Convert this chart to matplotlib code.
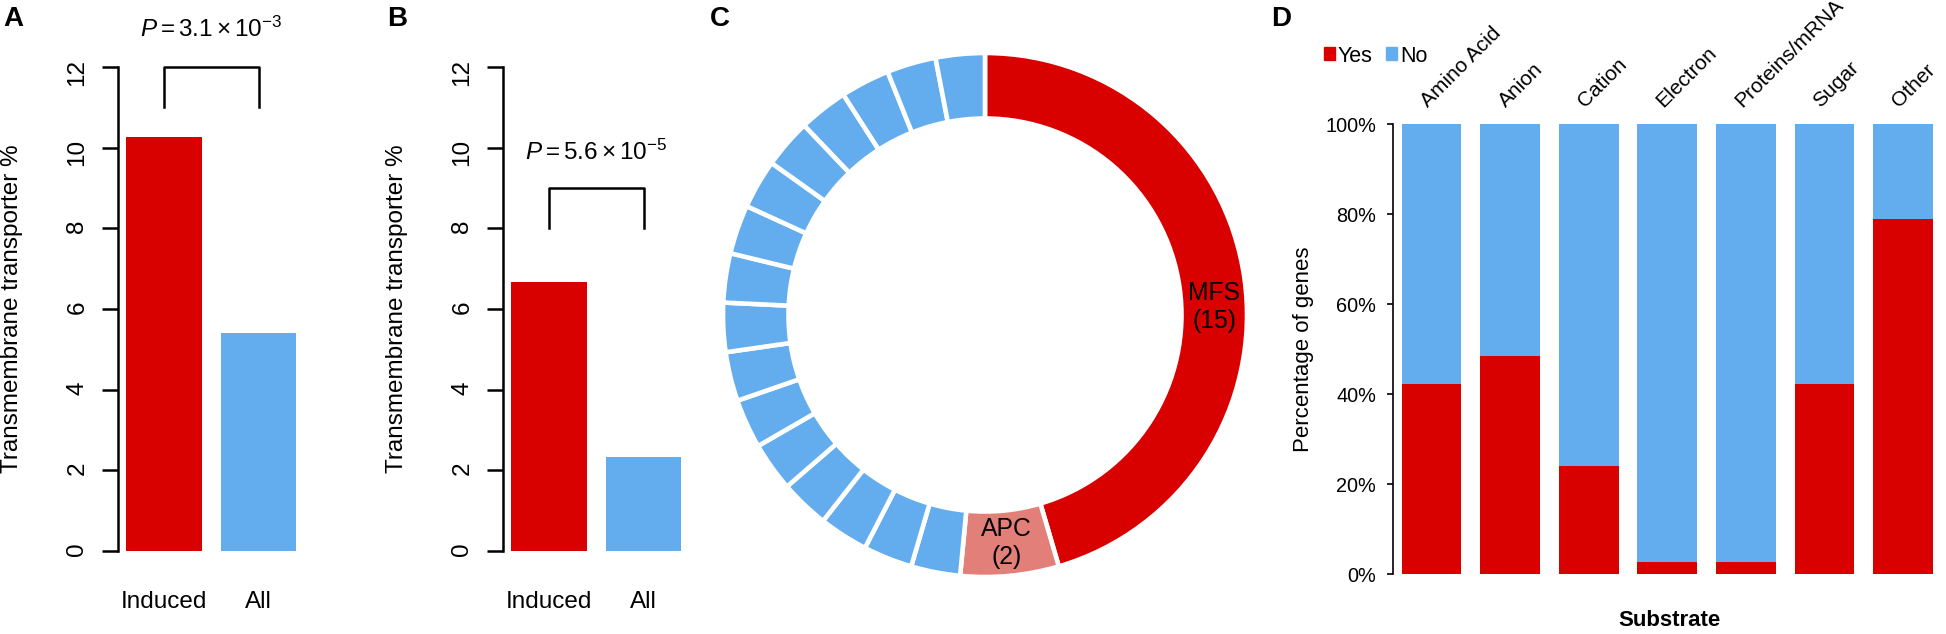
import matplotlib
matplotlib.use("Agg")
import numpy as np
import matplotlib.pyplot as plt
from matplotlib.patches import Patch

plt.rcParams['font.family'] = ['Liberation Sans', 'DejaVu Sans']
plt.rcParams['mathtext.fontset'] = 'custom'
plt.rcParams['mathtext.rm'] = 'Liberation Sans'
plt.rcParams['mathtext.it'] = 'Liberation Sans:italic'

W, H, DPI = 1946, 634, 100

RED = '#d90000'
BLUE = '#63adee'
SALMON = '#e27f78'

# panels A and B: transmembrane transporter share
groups = ['Induced', 'All']
pct_a = [10.27, 5.41]
pct_b = [6.68, 2.33]
pval_a = r'$P = 3.1 \times 10^{-3}$'
pval_b = r'$P = 5.6 \times 10^{-5}$'

# panel C: transporter families (one slice per family)
families = ['MFS', 'APC'] + [''] * 16
family_counts = [15, 2] + [1] * 16
family_colors = [RED, SALMON] + [BLUE] * 16

# panel D: substrate, yes / no
substrates = ['Amino Acid', 'Anion', 'Cation', 'Electron', 'Proteins/mRNA', 'Sugar', 'Other']
yes_pct = [42.2, 48.5, 24.0, 2.7, 2.7, 42.2, 78.9]
no_pct = [57.8, 51.5, 76.0, 97.3, 97.3, 57.8, 21.1]

fig = plt.figure(figsize=(W / DPI, H / DPI), dpi=DPI)


def px_axes(left, top, right, bottom):
    ax = fig.add_axes([left / W, 1 - bottom / H, (right - left) / W, (bottom - top) / H])
    ax.patch.set_visible(False)
    return ax


def panel_label(x, letter):
    fig.text(x / W, 1 - 26 / H, letter, fontsize=20, fontweight='bold', va='baseline', ha='left')


# bar panels, R barplot style
def bar_panel(center0, values, bracket, pval, p_y):
    unit = 94.5
    ax = px_axes(center0 - 0.485 * unit, 67, center0 + 1.6 * unit, 551)
    ax.bar([0, 1], values, width=0.8, color=[RED, BLUE])
    ax.set_xlim(-0.485, 1.6)
    ax.set_ylim(0, 12)
    for s in ['top', 'right', 'bottom']:
        ax.spines[s].set_visible(False)
    ax.spines['left'].set_bounds(0, 12)
    ax.spines['left'].set_linewidth(1.8)
    ax.set_yticks(range(0, 13, 2))
    ax.tick_params(axis='y', length=11.5, width=1.8, labelsize=17.5, pad=10, labelrotation=90)
    ax.set_xticks([])
    for i, g in enumerate(groups):
        ax.text(i, -1.41, g, ha='center', va='baseline', fontsize=17.5, clip_on=False)
    lo, hi = bracket
    ax.plot([0, 0, 1, 1], [lo, hi, hi, lo], color='black', lw=1.8, clip_on=False)
    ax.text(0.5, p_y, pval, ha='center', va='baseline', fontsize=17.5, clip_on=False)
    return ax


bar_panel(164, pct_a, (11, 12), pval_a, 12.74)
bar_panel(549, pct_b, (8, 9), pval_b, 9.69)
fig.text(12 / W, 1 - 309 / H, 'Transmembrane transporter %', rotation=90,
         ha='center', va='center', fontsize=17.5)
fig.text(397 / W, 1 - 309 / H, 'Transmembrane transporter %', rotation=90,
         ha='center', va='center', fontsize=17.5)
panel_label(3, 'A')
panel_label(387, 'B')

# panel C: donut
cx, cy, R = 985, 315, 262
axc = px_axes(cx - 300, cy - 300, cx + 300, cy + 300)
wedges, _ = axc.pie(family_counts, colors=family_colors, startangle=90, counterclock=False,
                    radius=1, wedgeprops=dict(width=0.25, edgecolor='white', linewidth=3.3))
axc.set_xlim(-300 / R, 300 / R)
axc.set_ylim(-300 / R, 300 / R)
label_angle = {'MFS': 2.0}
for w, name, n in zip(wedges, families, family_counts):
    if not name:
        continue
    ang = label_angle.get(name, (w.theta1 + w.theta2) / 2)
    r = 0.875
    axc.text(r * np.cos(np.radians(ang)), r * np.sin(np.radians(ang)), f'{name}\n({n})',
             ha='center', va='center', fontsize=17.8)
panel_label(710, 'C')

# panel D: stacked percentage bars
unit = 78.6
axd = px_axes(1393, 124, 1946, 574)
x = np.arange(len(substrates))
axd.bar(x, yes_pct, width=0.763, color=RED)
axd.bar(x, no_pct, width=0.763, bottom=yes_pct, color=BLUE)
axd.set_xlim(-0.49, (1946 - 1431.5) / unit)
axd.set_ylim(0, 100)
for s in ['top', 'right', 'bottom']:
    axd.spines[s].set_visible(False)
axd.spines['left'].set_bounds(0, 100)
axd.spines['left'].set_linewidth(1.2)
axd.set_yticks(range(0, 101, 20))
axd.set_yticklabels([f'{v}%' for v in range(0, 101, 20)])
axd.tick_params(axis='y', length=4.3, width=1.2, labelsize=14.3, pad=8)
axd.set_xticks([])
for i, s in enumerate(substrates):
    axd.text(i - 0.05, 103.6, s, rotation=45, rotation_mode='anchor', ha='left', va='baseline',
             fontsize=15, clip_on=False)
fig.text(1303.5 / W, 1 - 349.7 / H, 'Percentage of genes', rotation=90,
         ha='center', va='center', fontsize=16)
fig.text(1669.7 / W, 1 - 620 / H, 'Substrate', ha='center', va='center',
         fontsize=16, fontweight='bold')
axd.legend(handles=[Patch(color=RED, label='Yes'), Patch(color=BLUE, label='No')],
           loc='center left', bbox_to_anchor=(1324 / W, 1 - 56 / H), bbox_transform=fig.transFigure,
           ncol=2, frameon=False, fontsize=15.5, handlelength=0.5, handleheight=0.55,
           handletextpad=0.15, columnspacing=0.6, borderpad=0, borderaxespad=0)
panel_label(1271, 'D')

fig.savefig('out.png', dpi=DPI)
